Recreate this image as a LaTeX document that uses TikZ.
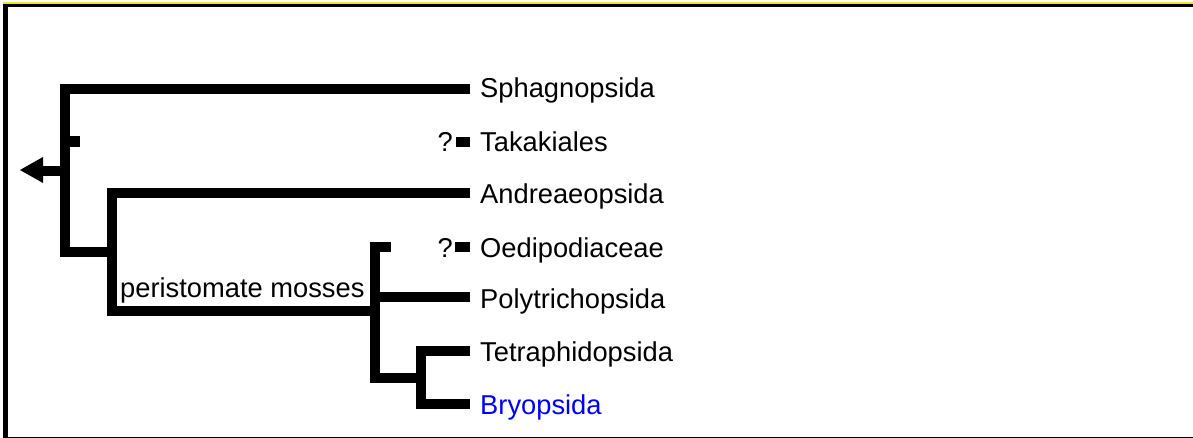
\documentclass[tikz,border=0pt]{standalone}
\usepackage{fontspec}
\setmainfont{Liberation Sans}
\definecolor{bryoblue}{RGB}{0,0,255}
\definecolor{frameyellow}{RGB}{240,230,40}
\begin{document}
\begin{tikzpicture}[x=1pt,y=-1pt,
  br/.style={line width=10.5pt, line join=miter, line cap=butt},
  lbl/.style={anchor=base west, inner sep=0pt, font=\fontsize{27.3}{30}\selectfont},
  qm/.style={anchor=base east, inner sep=0pt, font=\fontsize{27.3}{30}\selectfont}]
\useasboundingbox (0,0) rectangle (1193,438);
% frame
\fill[white] (0,0) rectangle (1193,438);
\fill[frameyellow] (3,2.5) rectangle (1193,4);
\fill[black] (3,4) rectangle (1193,7.5);
\fill[black] (3,4) rectangle (7.5,438);
\fill[black] (3,436.5) rectangle (1193,437.6);

% tree coordinates
\coordinate (r) at (65,171);
\coordinate (rs) at (43,171);
\coordinate (a1) at (65,89);
\coordinate (a2) at (65,252);
\coordinate (b1) at (112,193);
\coordinate (b2) at (112,311);
\coordinate (c1) at (375,247);
\coordinate (c2) at (375,378);
\coordinate (c3) at (375,297);
\coordinate (d1) at (421,351);
\coordinate (d2) at (421,404);
\coordinate (tk) at (65,141.5);
\coordinate (tkend) at (80,141.5);
\coordinate (oeend) at (391,247);

% leaves
\coordinate (sph) at (470,89);
\coordinate (and) at (470,193);
\coordinate (pol) at (470,297);
\coordinate (tet) at (470,351);
\coordinate (bry) at (470,404);

% labels
\node[lbl] (Lsph) at (480,98) {Sphagnopsida};
\node[lbl] (Ltak) at (480,152) {Takakiales};
\node[lbl] (Land) at (480,204) {Andreaeopsida};
\node[lbl] (Loed) at (480,258) {Oedipodiaceae};
\node[lbl] (Lpol) at (480,308.5) {Polytrichopsida};
\node[lbl] (Ltet) at (480,361.5) {Tetraphidopsida};
\node[lbl,text=bryoblue] (Lbry) at (480,414) {Bryopsida};
\node[qm] (Qtak) at (453,152) {?};
\node[qm] (Qoed) at (453,258) {?};
\node[lbl] (Lper) at (120,297.5) {peristomate mosses};

% small squares
\fill (456,137) rectangle (470,147);
\fill (455,242) rectangle (470,252);

% branches
\draw[br] (sph) -- (a1) -- (a2) -- (b2 |- a2);
\draw[br] (tk) -- (tkend);
\draw[br] (rs) -- (r);
\fill (20,170) -- (43,157) -- (43,183) -- cycle;
\draw[br] (and) -- (b1) -- (b2) -- (c1 |- b2);
\draw[br] (oeend) -- (c1) -- (c2) -- (d1 |- c2);
\draw[br] (c3) -- (pol);
\draw[br] (tet) -- (d1) -- (d2) -- (bry);
\end{tikzpicture}
\end{document}
